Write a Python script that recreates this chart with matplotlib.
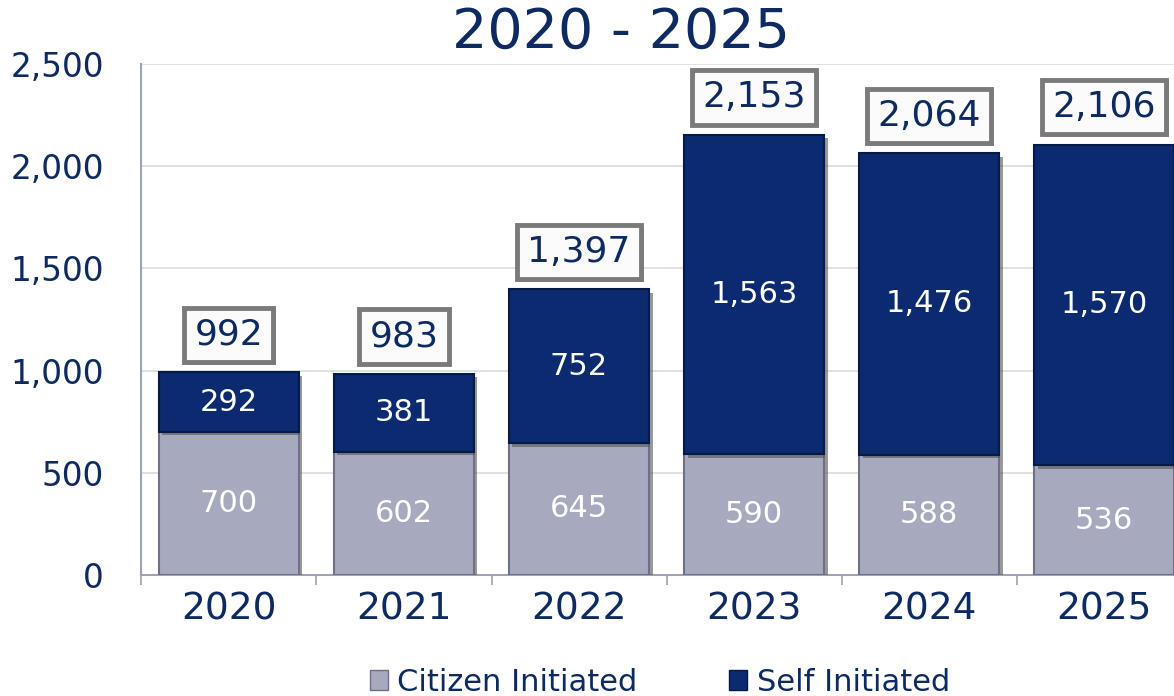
import matplotlib
matplotlib.use("Agg")
import matplotlib.pyplot as plt
import matplotlib.patheffects as pe
import numpy as np
from matplotlib.patches import Patch

years = ["2020", "2021", "2022", "2023", "2024", "2025"]
citizen = [700, 602, 645, 590, 588, 536]
self_init = [292, 381, 752, 1563, 1476, 1570]
totals = [992, 983, 1397, 2153, 2064, 2106]
yticks = [0, 500, 1000, 1500, 2000, 2500]

navy_text = "#0d2a63"
c_cit = "#a7a9bf"
c_self = "#0b2a6f"

fig = plt.figure(figsize=(11.74, 6.96), dpi=100)
ax = fig.add_axes([0.1205, 0.174, 0.8945, 0.734])

shadow = [pe.SimplePatchShadow(offset=(2.5, -2.5), shadow_rgbFace="#555555", alpha=0.6), pe.Normal()]
x = np.arange(len(years))
b1 = ax.bar(x, citizen, width=0.8, color=c_cit, edgecolor="#6e7088", linewidth=1.5, zorder=3)
b2 = ax.bar(x, self_init, width=0.8, bottom=citizen, color=c_self, edgecolor="#061a48", linewidth=1.5, zorder=3)
for p in list(b1) + list(b2):
    p.set_path_effects(shadow)

for i in range(len(years)):
    ax.text(x[i], citizen[i] / 2, f"{citizen[i]:,}", ha="center", va="center",
            color="white", fontsize=22, zorder=5)
    ax.text(x[i], citizen[i] + self_init[i] / 2, f"{self_init[i]:,}", ha="center", va="center",
            color="white", fontsize=22, zorder=5)
    t = ax.annotate(f"{totals[i]:,}", xy=(x[i], totals[i]), xytext=(0, 27), textcoords="offset points",
                    ha="center", va="center", color=navy_text, fontsize=26, zorder=6,
                    bbox=dict(boxstyle="square,pad=0.28", facecolor="#fbfbfb", edgecolor="#7a7a7a", linewidth=3.5))
    t.get_bbox_patch().set_path_effects([pe.SimplePatchShadow(offset=(2, -2), alpha=0.5), pe.Normal()])

ax.set_xlim(-0.5, len(years) - 0.5)
ax.set_ylim(0, 2500)
ax.set_yticks(yticks)
ax.set_yticklabels([f"{v:,}" for v in yticks])
ax.set_xticks(x)
ax.set_xticklabels(years)
ax.set_xticks(np.arange(len(years) + 1) - 0.5, minor=True)
ax.tick_params(axis="x", which="major", length=0, labelsize=27, labelcolor=navy_text, pad=12)
ax.tick_params(axis="x", which="minor", length=7, color="#a0a0b0", width=1.2)
ax.tick_params(axis="y", length=0, labelsize=23.5, labelcolor=navy_text, pad=27)
ax.grid(axis="y", color="#dcdcdc", linewidth=1.2, zorder=0)
for s in ["top", "right"]:
    ax.spines[s].set_visible(False)
ax.spines["left"].set_color("#a0a3b5")
ax.spines["left"].set_linewidth(1.5)
ax.spines["bottom"].set_color("#a0a3b5")
ax.spines["bottom"].set_linewidth(1.5)

fig.text(0.529, 0.953, "2020 - 2025", fontsize=40, color=navy_text, ha="center", va="center")

handles = [Patch(facecolor=c_cit, edgecolor="#6e7088", label="Citizen Initiated"),
           Patch(facecolor=c_self, edgecolor="#061a48", label="Self Initiated")]
fig.legend(handles=handles, loc="center", bbox_to_anchor=(0.562, 0.02), ncol=2, frameon=False,
           fontsize=22, labelcolor=navy_text, handlelength=0.6, handleheight=0.6,
           handletextpad=0.3, columnspacing=3.0)

fig.savefig("out.png", dpi=100)
